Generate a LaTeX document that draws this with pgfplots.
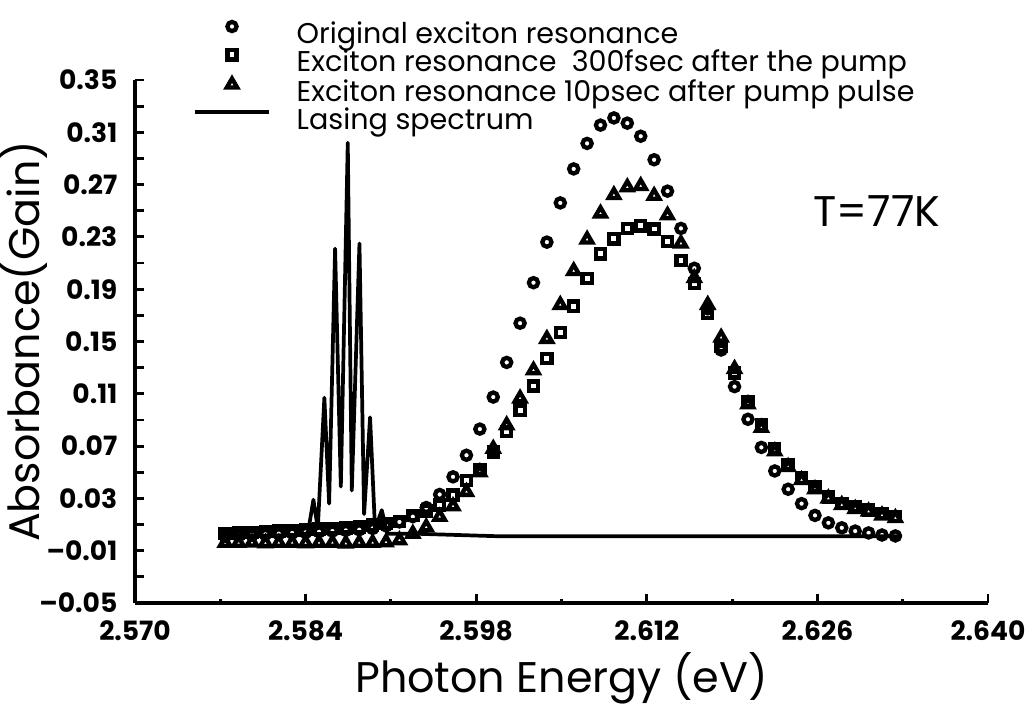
\documentclass[border=0pt]{standalone}
\usepackage{fontspec}
\setmainfont{Poppins}
\usepackage{pgfplots}
\usepackage{pgfplotstable}
\pgfplotsset{compat=1.18}

% energy (eV), original, 300 fs after pump, 10 ps after pump
\pgfplotstableread{
x      orig    fs300   ps10
2.5774 0.0010  0.0030 -0.0040
2.5785 0.0015  0.0035 -0.0040
2.5796 0.0020  0.0040 -0.0038
2.5807 0.0025  0.0045 -0.0042
2.5818 0.0030  0.0050 -0.0040
2.5829 0.0035  0.0055 -0.0040
2.5840 0.0040  0.0060 -0.0042
2.5851 0.0045  0.0065 -0.0040
2.5862 0.0050  0.0070 -0.0040
2.5873 0.0055  0.0075 -0.0045
2.5884 0.0060  0.0080 -0.0040
2.5895 0.0070  0.0095 -0.0040
2.5906 0.0090  0.0110 -0.0035
2.5917 0.0120  0.0125 -0.0020
2.5928 0.0160  0.0170  0.0030
2.5939 0.0230  0.0205  0.0080
2.5950 0.0330  0.0250  0.0160
2.5961 0.0465  0.0325  0.0240
2.5972 0.0630  0.0435  0.0350
2.5983 0.0830  0.0520  0.0500
2.5994 0.1075  0.0655  0.0680
2.6005 0.1340  0.0810  0.0860
2.6016 0.1640  0.0975  0.1065
2.6027 0.1950  0.1160  0.1280
2.6038 0.2260  0.1370  0.1520
2.6049 0.2560  0.1570  0.1780
2.6060 0.2820  0.1770  0.2040
2.6071 0.3015  0.1980  0.2280
2.6082 0.3155  0.2170  0.2480
2.6093 0.3210  0.2285  0.2620
2.6104 0.3170  0.2365  0.2680
2.6115 0.3070  0.2385  0.2690
2.6126 0.2890  0.2360  0.2615
2.6137 0.2650  0.2265  0.2465
2.6148 0.2365  0.2120  0.2250
2.6159 0.2060  0.1945  0.1985
2.6170 0.1750  0.1715  0.1780
2.6181 0.1435  0.1460  0.1530
2.6192 0.1155  0.1260  0.1290
2.6203 0.0905  0.1040  0.1020
2.6214 0.0690  0.0860  0.0840
2.6225 0.0510  0.0680  0.0660
2.6236 0.0370  0.0555  0.0540
2.6247 0.0260  0.0455  0.0440
2.6258 0.0170  0.0390  0.0370
2.6269 0.0113  0.0310  0.0300
2.6280 0.0075  0.0260  0.0250
2.6291 0.0050  0.0235  0.0220
2.6302 0.0036  0.0210  0.0200
2.6313 0.0020  0.0185  0.0170
2.6324 0.0013  0.0160  0.0150
}\exciton

\begin{document}
\begin{tikzpicture}
\begin{axis}[
    scale only axis,
    width=298.55pt, height=183.05pt,
    xmin=2.570, xmax=2.640, ymin=-0.05, ymax=0.35,
    axis lines=left,
    axis line style={-, line width=1.3pt},
    tick align=inside,
    major tick length=3pt, minor tick length=1.5pt,
    tick style={line width=1pt, black},
    xtick={2.570,2.584,2.598,2.612,2.626,2.640},
    xticklabels={2.570,2.584,2.598,2.612,2.626,2.640},
    minor x tick num=1,
    ytick={-0.05,-0.01,0.03,0.07,0.11,0.15,0.19,0.23,0.27,0.31,0.35},
    yticklabels={--0.05,--0.01,0.03,0.07,0.11,0.15,0.19,0.23,0.27,0.31,0.35},
    extra y ticks={-0.03,0.01,0.05,0.09,0.13,0.17,0.21,0.25,0.29,0.33},
    extra y tick labels={},
    ticklabel style={font=\fontsize{9.3}{10}\selectfont\bfseries, inner sep=0pt},
    yticklabel style={xshift=-6pt},
    xticklabel style={yshift=-6pt},
    xlabel={Photon Energy (eV)},
    ylabel={Absorbance(Gain)},
    label style={font=\fontsize{15}{18}\selectfont},
    xlabel style={at={(axis description cs:0.5,-0.172)}, anchor=base},
    ylabel style={at={(axis description cs:-0.1114,0.5)}, anchor=base},
    legend cell align=left,
    legend style={at={(rel axis cs:0.068,1.111)}, anchor=north west,
        draw=none, fill=none, inner sep=0pt, outer sep=0pt,
        row sep=0pt, column sep=9pt,
        font=\fontsize{10}{12}\selectfont,
        nodes={inner sep=0pt, text height=7.3pt, text depth=2.3pt}},
    legend image code/.code={\draw[mark repeat=2,mark phase=2,#1]
        plot coordinates {(0pt,3.5pt) (13pt,3.5pt) (26pt,3.5pt)};},
]
\addplot[only marks, mark=o, mark size=1.6pt,
    mark options={line width=1.5pt, black}] table[x=x, y=orig] {\exciton};
\addlegendentry{Original exciton resonance}
\addplot[only marks, mark=square, mark size=1.6pt,
    mark options={line width=1.5pt, black}] table[x=x, y=fs300] {\exciton};
\addlegendentry{Exciton resonance\ \ 300fsec after the pump}
\addplot[only marks, mark=triangle, mark size=2.1pt,
    mark options={line width=1.5pt, black}] table[x=x, y=ps10] {\exciton};
\addlegendentry{Exciton resonance 10psec after pump pulse}
\addplot[black, line width=1.3pt, line join=round] coordinates {
    (2.5771,0.001) (2.5838,0.002) (2.5842,0.004) (2.58464,0.029)
    (2.5850,0.007) (2.58554,0.107) (2.58593,0.026) (2.58642,0.221)
    (2.58689,0.039) (2.58746,0.302) (2.58779,0.036) (2.58842,0.225)
    (2.5888,0.018) (2.58929,0.092) (2.5897,0.006) (2.59025,0.021)
    (2.5907,0.003) (2.5930,0.003) (2.6000,0.001) (2.6329,0.001)
};
\addlegendentry{Lasing spectrum}
\node[anchor=base, font=\fontsize{15}{18}\selectfont] at (axis cs:2.6309,0.2378) {T=77K};
\end{axis}
\pgfresetboundingbox
\path[use as bounding box] (-47.25pt,-37.1pt) rectangle (312.9pt,211.05pt);
\end{tikzpicture}
\end{document}
